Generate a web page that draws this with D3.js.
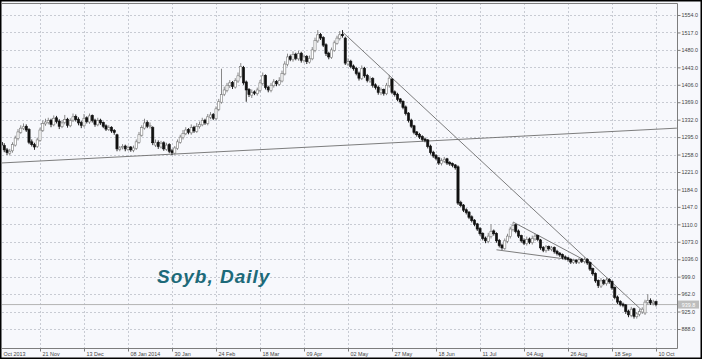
<!DOCTYPE html>
<html><head><meta charset="utf-8">
<script src="https://cdn.jsdelivr.net/npm/d3@7"></script>
<style>
body{margin:0;background:#fff;}
svg text{font-family:"Liberation Sans",Arial,sans-serif;}
</style></head><body>
<svg id="c" width="702" height="359"></svg>
<script>
// ---- data (bar index 0..238, daily Soybeans) ----
const open=[
1284,1277,1268,1261,1266,1278,1292,1305,1313,1318,
1311,1285,1279,1275,1288,1309,1323,1326,1331,1321,
1336,1329,1317,1326,1333,1319,1331,1339,1333,1326,
1319,1336,1327,1341,1331,1321,1331,1326,1319,1311,
1316,1309,1300,1269,1273,1276,1269,1274,1267,1271,
1284,1299,1314,1326,1317,1315,1278,1284,1274,1283,
1269,1279,1266,1261,1271,1284,1294,1302,1311,1304,
1316,1307,1317,1321,1331,1324,1337,1343,1334,1354,
1369,1386,1394,1404,1411,1401,1414,1424,1443,1412,
1396,1384,1391,1387,1394,1409,1426,1401,1394,1404,
1413,1407,1414,1429,1449,1466,1459,1471,1461,1473,
1457,1466,1454,1461,1479,1499,1513,1506,1491,1473,
1464,1479,1494,1504,1513,1505,1450,1456,1446,1441,
1431,1419,1441,1426,1414,1419,1406,1401,1389,1396,
1387,1404,1418,1391,1386,1376,1371,1359,1346,1331,
1319,1306,1301,1296,1291,1289,1276,1263,1256,1251,
1239,1244,1249,1241,1239,1236,1232,1156,1151,1141,
1136,1126,1119,1111,1101,1091,1081,1074,1084,1096,
1091,1076,1066,1059,1074,1084,1099,1109,1096,1086,
1076,1069,1079,1071,1079,1086,1077,1061,1054,1063,
1057,1061,1053,1049,1046,1041,1039,1036,1029,1034,
1029,1036,1031,1036,1029,1016,1006,991,979,991,
984,993,989,976,956,946,941,939,926,917,
931,914,919,924,922,944,949,942,946];
const high=[
1290,1282,1272,1270,1284,1298,1312,1320,1324,1322,
1314,1290,1283,1294,1315,1330,1334,1336,1334,1341,
1340,1333,1331,1342,1336,1335,1345,1343,1337,1330,
1344,1339,1345,1343,1334,1336,1334,1328,1322,1320,
1318,1312,1302,1276,1280,1279,1277,1276,1277,1290,
1306,1320,1334,1330,1326,1318,1290,1288,1287,1286,
1283,1282,1270,1276,1290,1300,1310,1316,1314,1322,
1319,1325,1328,1336,1334,1344,1348,1346,1360,1376,
1440,1402,1410,1416,1414,1420,1432,1452,1446,1415,
1399,1396,1394,1400,1416,1432,1428,1404,1410,1418,
1416,1422,1436,1456,1472,1470,1477,1474,1478,1476,
1470,1469,1468,1486,1506,1522,1516,1509,1494,1476,
1485,1500,1510,1520,1522,1508,1462,1459,1449,1444,
1434,1447,1444,1429,1424,1422,1409,1404,1400,1398,
1410,1427,1420,1394,1389,1378,1373,1362,1348,1334,
1321,1308,1304,1299,1294,1291,1279,1266,1259,1253,
1250,1253,1251,1244,1241,1238,1235,1160,1153,1144,
1138,1129,1121,1113,1104,1093,1084,1092,1110,1099,
1093,1079,1069,1080,1090,1105,1114,1111,1099,1088,
1080,1084,1082,1086,1090,1088,1079,1064,1066,1065,
1064,1063,1056,1051,1048,1044,1041,1038,1037,1036,
1039,1038,1040,1038,1031,1018,1008,993,996,994,
998,996,991,978,959,949,944,941,929,935,
933,924,930,934,950,962,953,950,948];
const low=[
1272,1263,1257,1256,1262,1275,1288,1302,1310,1306,
1280,1275,1268,1272,1285,1306,1319,1322,1316,1318,
1324,1312,1314,1322,1315,1316,1327,1328,1320,1314,
1316,1324,1323,1326,1317,1318,1321,1314,1308,1308,
1304,1300,1265,1265,1269,1265,1266,1264,1263,1268,
1281,1296,1311,1314,1313,1278,1274,1270,1271,1266,
1266,1261,1257,1258,1268,1281,1290,1299,1301,1300,
1304,1304,1313,1318,1321,1320,1333,1331,1331,1350,
1366,1382,1390,1399,1397,1398,1410,1420,1406,1370,
1380,1378,1384,1383,1390,1405,1396,1390,1390,1400,
1403,1404,1411,1426,1445,1456,1455,1458,1457,1453,
1453,1450,1451,1458,1475,1495,1501,1486,1467,1460,
1461,1476,1491,1500,1506,1448,1446,1441,1436,1426,
1415,1416,1421,1411,1410,1400,1396,1385,1384,1383,
1384,1400,1386,1381,1371,1366,1354,1341,1326,1314,
1301,1296,1291,1286,1284,1271,1258,1251,1246,1236,
1235,1240,1236,1234,1231,1226,1151,1146,1136,1131,
1121,1114,1106,1096,1086,1076,1070,1070,1080,1086,
1071,1061,1056,1056,1070,1080,1095,1091,1081,1071,
1066,1065,1068,1067,1075,1074,1056,1051,1050,1054,
1053,1048,1044,1041,1036,1034,1031,1026,1026,1026,
1026,1028,1027,1024,1011,1001,986,975,975,981,
980,984,971,951,941,936,934,920,913,913,
910,910,915,920,918,940,939,938,936];
const close=[
1278,1268,1262,1265,1279,1293,1306,1314,1317,1310,
1284,1279,1274,1289,1310,1324,1327,1330,1322,1335,
1328,1318,1325,1332,1320,1330,1338,1332,1325,1320,
1335,1328,1340,1330,1322,1330,1325,1318,1312,1315,
1308,1305,1270,1272,1275,1270,1273,1268,1272,1285,
1300,1315,1325,1318,1320,1283,1283,1275,1282,1270,
1278,1265,1262,1272,1285,1295,1303,1310,1305,1315,
1308,1318,1322,1330,1325,1338,1342,1335,1355,1370,
1385,1395,1405,1410,1402,1415,1425,1445,1410,1395,
1385,1390,1388,1395,1410,1425,1400,1395,1405,1412,
1408,1415,1430,1450,1465,1460,1470,1462,1472,1458,
1465,1455,1462,1480,1500,1512,1505,1490,1472,1465,
1480,1495,1505,1512,1510,1452,1455,1445,1440,1430,
1420,1440,1425,1415,1418,1405,1400,1390,1395,1388,
1405,1420,1390,1385,1375,1370,1358,1345,1330,1318,
1305,1300,1295,1290,1288,1275,1262,1255,1250,1240,
1245,1248,1240,1238,1235,1230,1155,1150,1140,1135,
1125,1118,1110,1100,1090,1080,1075,1085,1095,1090,
1075,1065,1060,1075,1085,1100,1108,1095,1085,1075,
1070,1078,1072,1080,1085,1078,1060,1055,1062,1058,
1060,1052,1048,1045,1040,1038,1035,1030,1033,1030,
1035,1032,1035,1028,1015,1005,990,980,990,985,
992,988,975,955,945,940,938,925,918,930,
915,920,925,930,945,948,943,945,939.8];

const yTicks=[888,925,962,999,1036,1073,1110,1147,1184,1221,1258,1295,1332,1369,1406,1443,1480,1517,1554];
const xTickIdx=[-2,14,30,46,62,78,94,110,126,142,158,174,190,206,222,238];
const xTickLabels=["Oct 2013","21 Nov","13 Dec","08 Jan 2014","30 Jan","24 Feb","18 Mar","09 Apr","02 May","27 May","18 Jun","11 Jul","04 Aug","26 Aug","18 Sep","10 Oct"];
// trend lines as [barIndex, price] pairs
const supportLine=[[-0.55,1240],[245.6,1314]];
const downTrend=[[124,1518],[233,927]];
const wedgeUpper=[[186,1115],[213.3,1030]];
const wedgeLower=[[180,1056],[213.3,1030]];
const lastPrice=939.8;
const title="Soyb, Daily";

// ---- drawing ----
const W=702,H=359;
const P={l:2,r:677,t:3,b:348};
const svg=d3.select("#c");
const x=d3.scaleLinear().domain([0,238]).range([1.5,656]);
const y=d3.scaleLinear().domain([888,1554]).range([329,15]);

svg.append("rect").attr("width",W).attr("height",H).attr("fill","#f7f8fc");
svg.append("clipPath").attr("id","clip").append("rect")
  .attr("x",P.l).attr("y",P.t).attr("width",P.r-P.l).attr("height",P.b-P.t);
const g=svg.append("g").attr("clip-path","url(#clip)");

// grid
g.selectAll(".hg").data(yTicks).join("line")
  .attr("x1",P.l).attr("x2",P.r)
  .attr("y1",d=>Math.round(y(d))+0.5).attr("y2",d=>Math.round(y(d))+0.5)
  .attr("stroke","#c8cbd3").attr("stroke-dasharray","2,2");
g.selectAll(".vg").data(xTickIdx).join("line")
  .attr("y1",P.t).attr("y2",P.b)
  .attr("x1",d=>Math.round(x(d))+0.5).attr("x2",d=>Math.round(x(d))+0.5)
  .attr("stroke","#c8cbd3").attr("stroke-dasharray","2,2");

// current price line
g.append("line").attr("x1",P.l).attr("x2",P.r)
  .attr("y1",y(lastPrice)).attr("y2",y(lastPrice))
  .attr("stroke","#b4b4b4").attr("stroke-width",1);

// trend lines
const line=d3.line().x(d=>x(d[0])).y(d=>y(d[1]));
[supportLine,downTrend,wedgeUpper,wedgeLower].forEach(l=>{
  g.append("path").attr("d",line(l)).attr("fill","none")
   .attr("stroke","#6e6e6e").attr("stroke-width",0.9);
});

// candles
const idx=d3.range(close.length);
const cg=g.append("g");
cg.selectAll(".wick").data(idx).join("line")
  .attr("x1",i=>x(i)).attr("x2",i=>x(i))
  .attr("y1",i=>y(high[i])).attr("y2",i=>y(low[i]))
  .attr("stroke",i=>close[i]>=open[i]?"#7a7a7a":"#111").attr("stroke-width",0.9);
cg.selectAll(".body").data(idx).join("rect")
  .attr("x",i=>x(i)-1.1).attr("width",2.2)
  .attr("y",i=>y(Math.max(open[i],close[i])))
  .attr("height",i=>Math.max(0.8,Math.abs(y(open[i])-y(close[i]))))
  .attr("fill",i=>close[i]>=open[i]?"#ffffff":"#111")
  .attr("stroke",i=>close[i]>=open[i]?"#7a7a7a":"#111").attr("stroke-width",0.6);

// plot border
svg.append("path").attr("d",`M${P.l},${P.t+0.5}H${P.r+0.5}V${P.b+0.5}H${P.l}`)
  .attr("fill","none").attr("stroke","#7d7d7d").attr("stroke-width",1);

// axes
const fs="5.4px";
const ya=svg.append("g").attr("transform",`translate(${P.r+0.5},0)`)
  .call(d3.axisRight(y).tickValues(yTicks).tickFormat(d=>d.toFixed(1)).tickSize(3).tickPadding(1));
ya.select(".domain").remove();
ya.selectAll("line").attr("stroke","#7d7d7d");
ya.selectAll("text").attr("font-size",fs).attr("fill","#444");

const xa=svg.append("g").attr("transform",`translate(0,${P.b+0.5})`)
  .call(d3.axisBottom(x).tickValues(xTickIdx).tickFormat((d,i)=>xTickLabels[i]).tickSize(3).tickPadding(1));
xa.select(".domain").remove();
xa.selectAll("line").attr("stroke","#7d7d7d");
xa.selectAll("text").attr("font-size",fs).attr("fill","#444")
  .attr("text-anchor","start")
  .attr("x",d=>x(d)<P.l?(3-x(d)):2);

// last price label
svg.append("rect").attr("x",P.r+1).attr("y",y(lastPrice)-4).attr("width",21).attr("height",8).attr("fill","#bdbdbd");
svg.append("text").attr("x",P.r+11.5).attr("y",y(lastPrice)+2).attr("text-anchor","middle")
  .attr("font-size",fs).attr("fill","#fff").text(lastPrice.toFixed(1));

// title
svg.append("text").attr("x",157).attr("y",283)
  .attr("font-size","19px").attr("font-weight","bold").attr("font-style","italic")
  .attr("letter-spacing","1px").attr("fill","#1d6a79").text(title);

// outer frame
svg.append("rect").attr("x",0.75).attr("y",0.75).attr("width",W-1.5).attr("height",H-1.5)
  .attr("fill","none").attr("stroke","#000").attr("stroke-width",1.5);
</script>
</body></html>
